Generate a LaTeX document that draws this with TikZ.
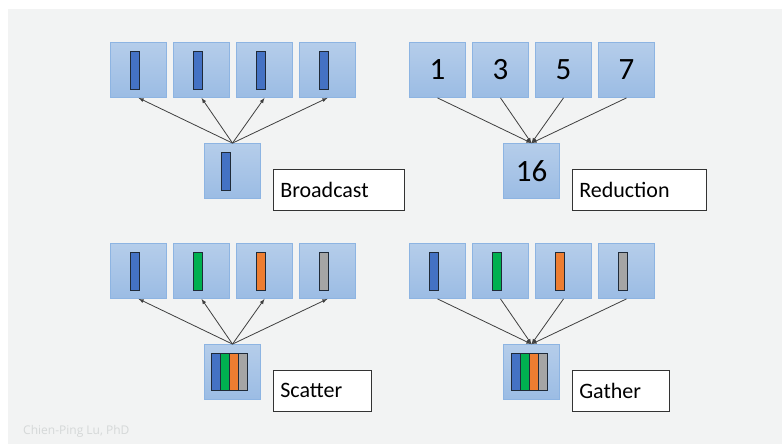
\documentclass[tikz,border=0pt]{standalone}
\usepackage{fontspec}
\setmainfont{Carlito}
\newfontfamily\footfont{Open Sans}
\definecolor{bgGray}{HTML}{F2F3F3}
\definecolor{boxTop}{HTML}{B5CDEA}
\definecolor{boxBottom}{HTML}{9BBCE4}
\definecolor{boxLine}{HTML}{8DB4E2}
\definecolor{barLine}{HTML}{1F2A38}
\definecolor{barBlue}{HTML}{4472C4}
\definecolor{barGreen}{HTML}{00B050}
\definecolor{barOrange}{HTML}{ED7D31}
\definecolor{barGray}{HTML}{A5A5A5}
\definecolor{lineGray}{HTML}{3F3F3F}
\definecolor{footGray}{HTML}{D5D8D8}

\begin{document}
\begin{tikzpicture}
[x=1pt, y=-1pt,
 boxDecorate/.style={draw=boxLine, line width=0.8pt, top color=boxTop, bottom color=boxBottom, minimum width=56pt, minimum height=55pt, inner sep=0pt, font=\fontsize{31}{34}\selectfont},
 barDecorate/.style={draw=barLine, line width=0.9pt, minimum width=9pt, minimum height=38pt, inner sep=0pt},
 labelDecorate/.style={draw=black!80, fill=white, line width=0.8pt, minimum height=40.5pt, inner xsep=7pt, inner ysep=0pt, anchor=north west, align=left, font=\fontsize{22}{24}\selectfont},
 lineDecorate/.style={-latex, line width=0.8pt, draw=lineGray}]

 \useasboundingbox (0,0) rectangle (782,444);
 \fill[bgGray] (8,9) rectangle (782,444);

 % broadcast
 \foreach \i in {0,1,2,3}
 {
          \node (B\i) at (138.5+63*\i, 70) [boxDecorate] {};
          \node (Bbar\i) at ([xshift=-4pt]B\i.center) [barDecorate, fill=barBlue] {};
 }
 \node (B) at (232.5, 171) [boxDecorate] {};
 \node (Bbar) at ([xshift=-7pt]B.center) [barDecorate, fill=barBlue] {};
 \node (Blabel) at ([xshift=12pt, yshift=-26pt]B.north east) [labelDecorate, text width=117pt] {Broadcast};

 % reduction
 \foreach \i/\num in {0/1,1/3,2/5,3/7}
 {
          \node (R\i) at (437.5+63*\i, 70) [boxDecorate] {\num};
 }
 \node (R) at (531.5, 171) [boxDecorate] {16};
 \node (Rlabel) at ([xshift=12pt, yshift=-26pt]R.north east) [labelDecorate, text width=120pt] {Reduction};

 % scatter
 \foreach \i/\c in {0/barBlue,1/barGreen,2/barOrange,3/barGray}
 {
          \node (S\i) at (138.5+63*\i, 271) [boxDecorate] {};
          \node (Sbar\i) at ([xshift=-4pt]S\i.center) [barDecorate, fill=\c] {};
 }
 \node (S) at (232.5, 372) [boxDecorate] {};
 \foreach \i/\c in {0/barBlue,1/barGreen,2/barOrange,3/barGray}
 {
          \node (Sstack\i) at ([xshift=(\i-1.5)*9pt-3pt]S.center) [barDecorate, fill=\c, minimum height=37.5pt] {};
 }
 \node (Slabel) at ([xshift=12pt, yshift=-26pt]S.north east) [labelDecorate, text width=84pt] {Scatter};

 % gather
 \foreach \i/\c in {0/barBlue,1/barGreen,2/barOrange,3/barGray}
 {
          \node (G\i) at (437.5+63*\i, 271) [boxDecorate] {};
          \node (Gbar\i) at ([xshift=-4pt]G\i.center) [barDecorate, fill=\c] {};
 }
 \node (G) at (531.5, 372) [boxDecorate] {};
 \foreach \i/\c in {0/barBlue,1/barGreen,2/barOrange,3/barGray}
 {
          \node (Gstack\i) at ([xshift=(\i-1.5)*9pt-2pt]G.center) [barDecorate, fill=\c, minimum height=37.5pt] {};
 }
 \node (Glabel) at ([xshift=12pt, yshift=-26pt]G.north east) [labelDecorate, text width=83pt] {Gather};

\path
\foreach \i in {0,1,2,3}
        {
          (B.north) edge[lineDecorate] (B\i.south)
          (R\i.south) edge[lineDecorate] (R.north)
          (S.north) edge[lineDecorate] (S\i.south)
          (G\i.south) edge[lineDecorate] (G.north)
        };

 \node (footer) at (23, 431) [anchor=west, inner sep=0pt, text=footGray, font=\footfont\fontsize{12}{14}\selectfont] {Chien-Ping Lu, PhD};

\end{tikzpicture}
\end{document}
